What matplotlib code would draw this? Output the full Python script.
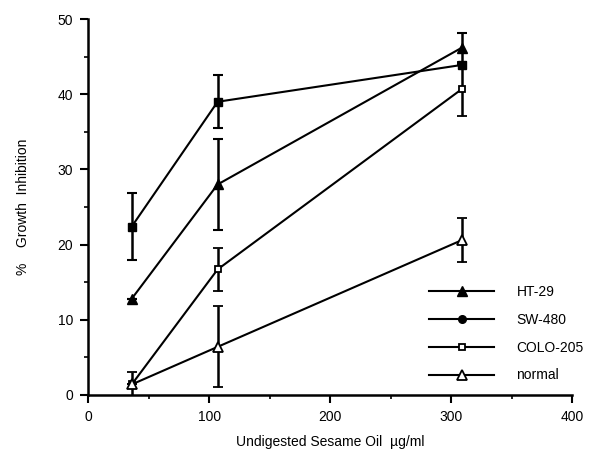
import matplotlib
matplotlib.use("Agg")
import matplotlib.pyplot as plt
from matplotlib.lines import Line2D

plt.rcParams['font.family'] = ['Liberation Sans', 'DejaVu Sans']

# --- data ---
dose = [36, 107, 309]

ht29 = [12.8, 28.0, 46.2]
ht29_err = [0.0, 6.0, 2.0]

sw480 = [22.4, 39.0, 43.9]
sw480_err = [4.4, 3.5, 0.0]

colo205 = [1.4, 16.7, 40.7]
colo205_err = [1.6, 2.9, 3.6]

normal = [1.4, 6.4, 20.6]
normal_err = [0.0, 5.4, 2.9]

labels = ["HT-29", "SW-480", "COLO-205", "normal"]

fig = plt.figure(figsize=(6.04, 4.54), dpi=100)
ax = fig.add_axes([0.146, 0.130, 0.801, 0.828])

common = dict(color="black", lw=1.5, elinewidth=1.8, capsize=3.5, capthick=1.5)
ax.errorbar(dose, ht29, yerr=ht29_err, marker="^", ms=7.5, mfc="black", mec="black", **common)
ax.errorbar(dose, sw480, yerr=sw480_err, marker="s", ms=6, mfc="black", mec="black", **common)
ax.errorbar(dose, colo205, yerr=colo205_err, marker="s", ms=5, mfc="white", mec="black", mew=1.3, **common)
ax.errorbar(dose, normal, yerr=normal_err, marker="^", ms=6.5, mfc="white", mec="black", mew=1.3, **common)

ax.set_xlim(0, 400)
ax.set_ylim(0, 50)
ax.set_xticks([0, 100, 200, 300, 400])
ax.set_xticks([50, 150, 250, 350], minor=True)
ax.set_yticks([0, 10, 20, 30, 40, 50])
ax.set_yticks([5, 15, 25, 35, 45], minor=True)
ax.spines["top"].set_visible(False)
ax.spines["right"].set_visible(False)
ax.spines["left"].set_linewidth(1.8)
ax.spines["bottom"].set_linewidth(1.8)
ax.tick_params(which="major", direction="out", length=6, width=1.5, labelsize=10, pad=5)
ax.tick_params(which="minor", direction="out", length=3, width=1.2)

ax.set_xlabel("Undigested Sesame Oil  \u00b5g/ml", fontsize=10, labelpad=8)
ax.set_ylabel("%    Growth  Inhibition", fontsize=10, labelpad=20)

handles = [
    Line2D([], [], color="black", lw=1.5, marker="^", ms=7.5, mfc="black", mec="black"),
    Line2D([], [], color="black", lw=1.5, marker="o", ms=5.5, mfc="black", mec="black"),
    Line2D([], [], color="black", lw=1.5, marker="s", ms=5, mfc="white", mec="black", mew=1.3),
    Line2D([], [], color="black", lw=1.5, marker="^", ms=6.5, mfc="white", mec="black", mew=1.3),
]
ax.legend(handles, labels, loc="lower right", bbox_to_anchor=(1.05, 0.0), frameon=False,
          fontsize=10, handlelength=4.7, handletextpad=1.6, labelspacing=1.0)

fig.savefig("out.png", dpi=100)
